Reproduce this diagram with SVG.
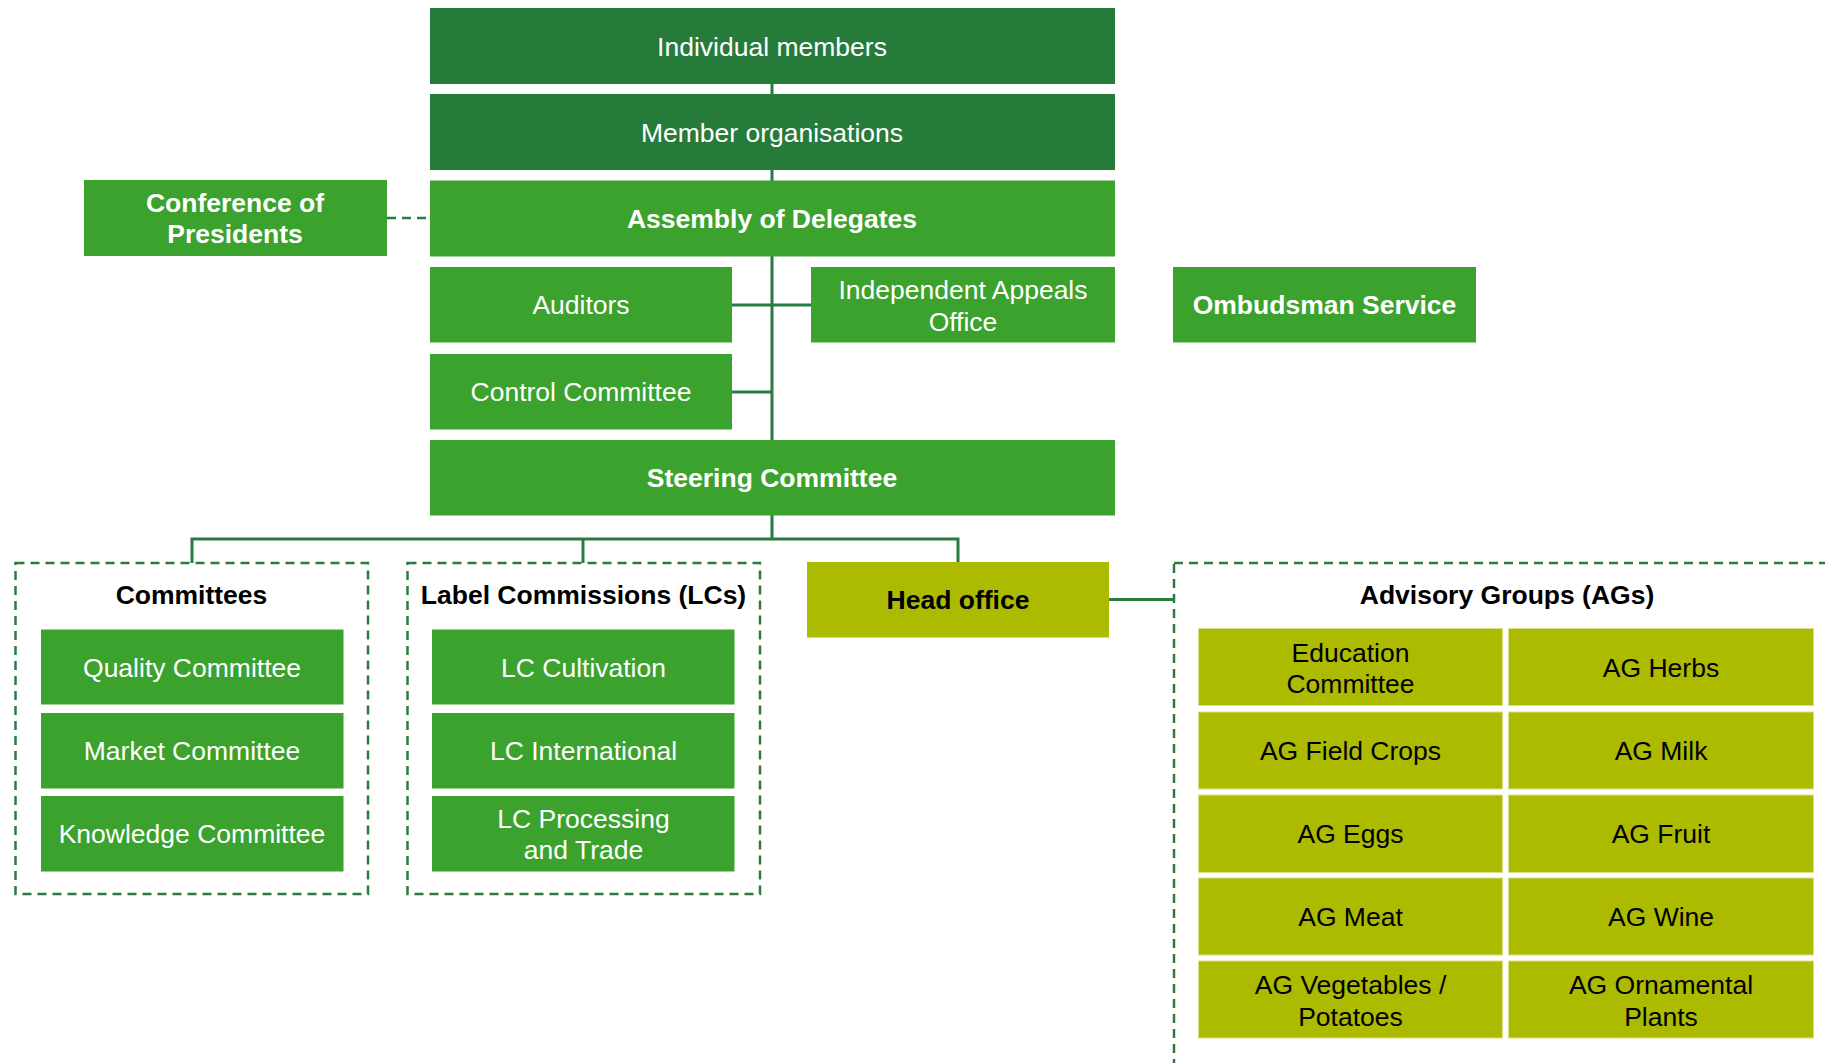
<svg xmlns="http://www.w3.org/2000/svg" width="1825" height="1063" viewBox="0 0 1825 1063">
<style>
  .dk { fill: #267B3B; }
  .gr { fill: #3BA22E; }
  .ol { fill: #ACBB00; }
  .ag { fill: #ACBB00; stroke: #D9E08A; stroke-width: 1; }
  text { font-family: "Liberation Sans", Arial, sans-serif; font-size: 26.5px; text-anchor: middle; }
  .w { fill: #FFFFFF; }
  .b { fill: #000000; }
  .bold { font-weight: bold; }
  .ln { stroke: #2A7B3F; stroke-width: 3; fill: none; }
  .dash { stroke: #2A7B3F; stroke-width: 2.5; fill: none; stroke-dasharray: 9 6; }
</style>
<rect width="1825" height="1063" fill="#FFFFFF"/>
<g id="connectors">
  <line class="ln" x1="772" y1="84" x2="772" y2="539"/>
  <line class="dash" x1="387" y1="218" x2="430" y2="218"/>
  <line class="ln" x1="732" y1="305" x2="811" y2="305"/>
  <line class="ln" x1="732" y1="392" x2="772" y2="392"/>
  <polyline class="ln" points="192,563 192,539 958,539 958,562"/>
  <line class="ln" x1="583" y1="539" x2="583" y2="563"/>
  <line class="ln" x1="1109" y1="599.5" x2="1174" y2="599.5"/>
</g>
<g id="individual-members">
  <rect class="dk" x="430" y="8" width="685" height="76"/>
  <text class="w" x="772" y="56">Individual members</text>
</g>
<g id="member-organisations">
  <rect class="dk" x="430" y="94" width="685" height="76"/>
  <text class="w" x="772" y="142">Member organisations</text>
</g>
<g id="conference-of-presidents">
  <rect class="gr" x="84" y="180" width="303" height="76"/>
  <text class="w bold" x="235" y="211.5">Conference of</text>
  <text class="w bold" x="235" y="243">Presidents</text>
</g>
<g id="assembly-of-delegates">
  <rect class="gr" x="430" y="180.5" width="685" height="76"/>
  <text class="w bold" x="772" y="228">Assembly of Delegates</text>
</g>
<g id="auditors">
  <rect class="gr" x="430" y="267" width="302" height="75.5"/>
  <text class="w" x="581" y="314">Auditors</text>
</g>
<g id="independent-appeals-office">
  <rect class="gr" x="811" y="267" width="304" height="75.5"/>
  <text class="w" x="963" y="299">Independent Appeals</text>
  <text class="w" x="963" y="330.5">Office</text>
</g>
<g id="ombudsman-service">
  <rect class="gr" x="1173" y="267" width="303" height="75.5"/>
  <text class="w bold" x="1324.5" y="314">Ombudsman Service</text>
</g>
<g id="control-committee">
  <rect class="gr" x="430" y="354" width="302" height="75.5"/>
  <text class="w" x="581" y="401">Control Committee</text>
</g>
<g id="steering-committee">
  <rect class="gr" x="430" y="440" width="685" height="75.5"/>
  <text class="w bold" x="772" y="487">Steering Committee</text>
</g>
<g id="committees">
  <rect class="dash" x="15.5" y="563" width="352.5" height="331"/>
  <text class="b bold" x="191.5" y="603.5">Committees</text>
  <g id="quality-committee">
    <rect class="gr" x="41" y="629.5" width="302.5" height="75"/>
    <text class="w" x="192" y="676.5">Quality Committee</text>
  </g>
  <g id="market-committee">
    <rect class="gr" x="41" y="713" width="302.5" height="75.5"/>
    <text class="w" x="192" y="760">Market Committee</text>
  </g>
  <g id="knowledge-committee">
    <rect class="gr" x="41" y="796" width="302.5" height="75.5"/>
    <text class="w" x="192" y="843">Knowledge Committee</text>
  </g>
</g>
<g id="label-commissions">
  <rect class="dash" x="407.5" y="563" width="352.5" height="331"/>
  <text class="b bold" x="583.5" y="603.5">Label Commissions (LCs)</text>
  <g id="lc-cultivation">
    <rect class="gr" x="432" y="629.5" width="302.5" height="75"/>
    <text class="w" x="583.5" y="676.5">LC Cultivation</text>
  </g>
  <g id="lc-international">
    <rect class="gr" x="432" y="713" width="302.5" height="75.5"/>
    <text class="w" x="583.5" y="760">LC International</text>
  </g>
  <g id="lc-processing">
    <rect class="gr" x="432" y="796" width="302.5" height="75.5"/>
    <text class="w" x="583.5" y="827.5">LC Processing</text>
    <text class="w" x="583.5" y="859">and Trade</text>
  </g>
</g>
<g id="head-office">
  <rect class="ol" x="807" y="562" width="302" height="75.5"/>
  <text class="b bold" x="958" y="609">Head office</text>
</g>
<g id="advisory-groups">
  <rect class="dash" x="1174" y="563" width="720" height="560"/>
  <text class="b bold" x="1507" y="603.5">Advisory Groups (AGs)</text>
  <g id="education-committee">
    <rect class="ag" x="1198.5" y="628.5" width="304" height="77"/>
    <text class="b" x="1350.5" y="661.5">Education</text>
    <text class="b" x="1350.5" y="693">Committee</text>
  </g>
  <g id="ag-herbs">
    <rect class="ag" x="1508.5" y="628.5" width="305" height="77"/>
    <text class="b" x="1661" y="676.5">AG Herbs</text>
  </g>
  <g id="ag-field-crops">
    <rect class="ag" x="1198.5" y="712" width="304" height="77"/>
    <text class="b" x="1350.5" y="760">AG Field Crops</text>
  </g>
  <g id="ag-milk">
    <rect class="ag" x="1508.5" y="712" width="305" height="77"/>
    <text class="b" x="1661" y="760">AG Milk</text>
  </g>
  <g id="ag-eggs">
    <rect class="ag" x="1198.5" y="795" width="304" height="77.5"/>
    <text class="b" x="1350.5" y="843">AG Eggs</text>
  </g>
  <g id="ag-fruit">
    <rect class="ag" x="1508.5" y="795" width="305" height="77.5"/>
    <text class="b" x="1661" y="843">AG Fruit</text>
  </g>
  <g id="ag-meat">
    <rect class="ag" x="1198.5" y="878" width="304" height="77"/>
    <text class="b" x="1350.5" y="926">AG Meat</text>
  </g>
  <g id="ag-wine">
    <rect class="ag" x="1508.5" y="878" width="305" height="77"/>
    <text class="b" x="1661" y="926">AG Wine</text>
  </g>
  <g id="ag-vegetables">
    <rect class="ag" x="1198.5" y="961" width="304" height="77"/>
    <text class="b" x="1350.5" y="994">AG Vegetables /</text>
    <text class="b" x="1350.5" y="1025.5">Potatoes</text>
  </g>
  <g id="ag-ornamental">
    <rect class="ag" x="1508.5" y="961" width="305" height="77"/>
    <text class="b" x="1661" y="994">AG Ornamental</text>
    <text class="b" x="1661" y="1025.5">Plants</text>
  </g>
</g>
</svg>
